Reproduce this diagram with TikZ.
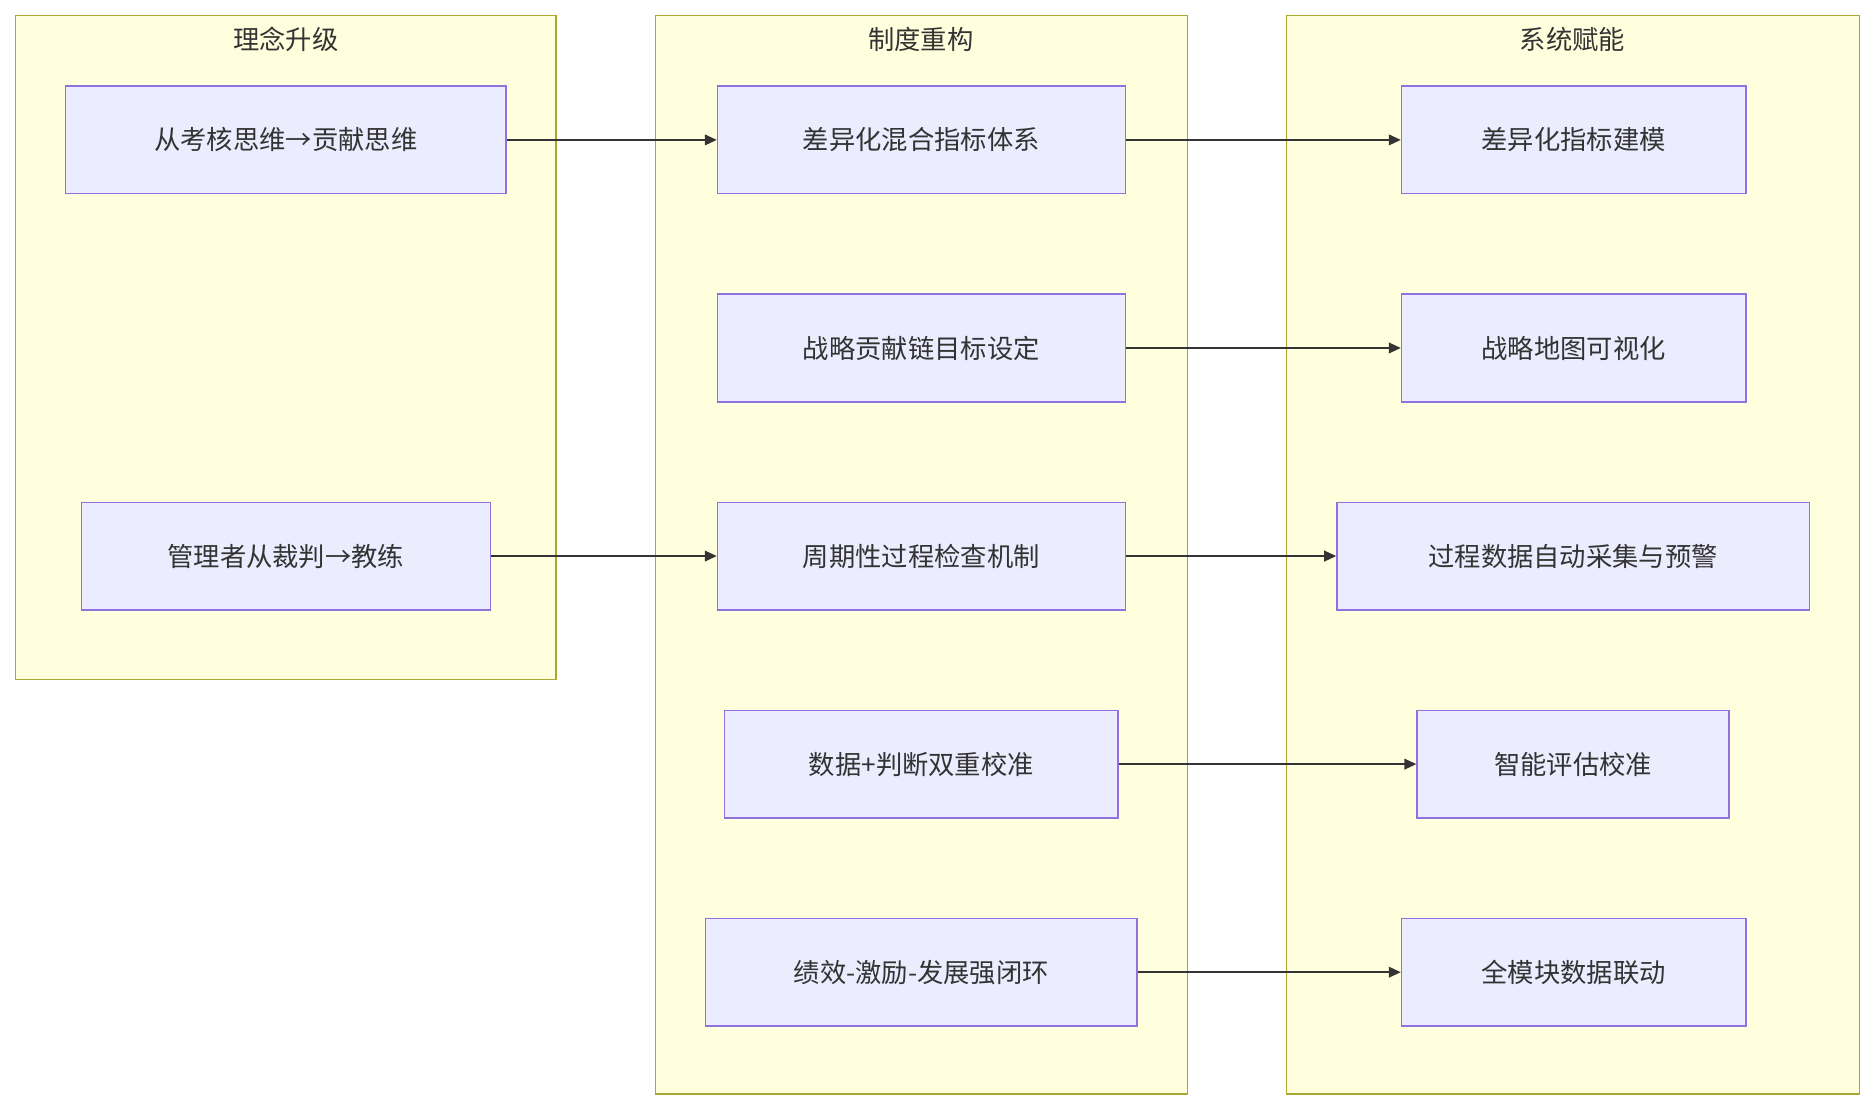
\documentclass[tikz,border=0pt]{standalone}
\usepackage{fontspec}
\setmainfont{Noto Sans CJK SC}
\usetikzlibrary{arrows.meta}
\definecolor{cf}{HTML}{FFFFDE}\definecolor{cb}{HTML}{AAAA33}
\definecolor{nf}{HTML}{ECECFF}\definecolor{nb}{HTML}{9370DB}
\definecolor{tx}{HTML}{333333}
\begin{document}
\begin{tikzpicture}[x=1pt,y=-1pt,
 clu/.style={draw=cb,fill=cf,line width=1.2pt},
 nd/.style={draw=nb,fill=nf,line width=1.2pt,text=tx,font=\fontsize{22}{26}\selectfont},
 ttl/.style={text=tx,font=\fontsize{22}{26}\selectfont},
 ar/.style={draw=tx,line width=1.2pt,-{Triangle[length=10pt,width=9pt]}}]
\useasboundingbox (0,0) rectangle (1568,930);
\newcommand\bx[5]{\node[nd,minimum width=#3-#2,minimum height=90,inner sep=0] (#1) at ({(#2+#3)/2},#4) {#5};}
\draw[clu] (13,13) rectangle (465,568);
\draw[clu] (548,13) rectangle (993,915);
\draw[clu] (1076,13) rectangle (1555,915);
\node[ttl] (t1) at (239,33) {理念升级};
\node[ttl] (t2) at (770,33) {制度重构};
\node[ttl] (t3) at (1315,33) {系统赋能};
\bx{a1}{55}{423}{117}{从考核思维→贡献思维}
\bx{a2}{68}{410}{465}{管理者从裁判→教练}
\bx{b1}{600}{941}{117}{差异化混合指标体系}
\bx{b2}{600}{941}{291}{战略贡献链目标设定}
\bx{b3}{600}{941}{465}{周期性过程检查机制}
\bx{b4}{606}{935}{639}{数据+判断双重校准}
\bx{b5}{590}{951}{813}{绩效-激励-发展强闭环}
\bx{c1}{1172}{1460}{117}{差异化指标建模}
\bx{c2}{1172}{1460}{291}{战略地图可视化}
\bx{c3}{1118}{1513}{465}{过程数据自动采集与预警}
\bx{c4}{1185}{1446}{639}{智能评估校准}
\bx{c5}{1172}{1460}{813}{全模块数据联动}
\draw[ar] (a1) -- (b1);
\draw[ar] (a2) -- (b3);
\draw[ar] (b1) -- (c1);
\draw[ar] (b2) -- (c2);
\draw[ar] (b3) -- (c3);
\draw[ar] (b4) -- (c4);
\draw[ar] (b5) -- (c5);
\end{tikzpicture}
\end{document}
